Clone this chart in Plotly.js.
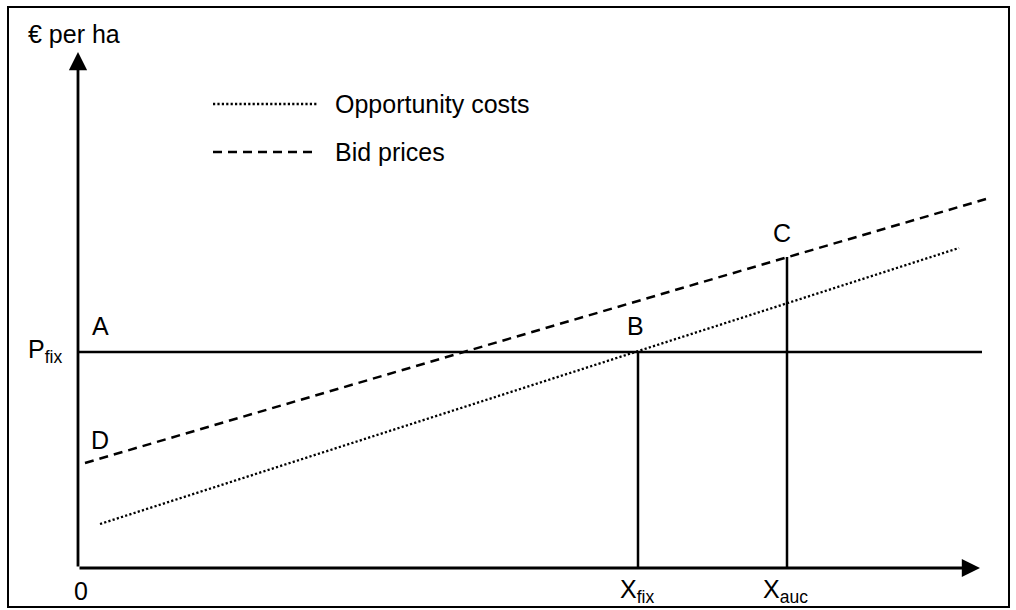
<!DOCTYPE html>
<html>
<head>
<meta charset="utf-8">
<script src="https://cdn.plot.ly/plotly-3.0.1.min.js"></script>
<style>
  html, body { margin: 0; padding: 0; background: #fff; }
  #chart { width: 1016px; height: 610px; }
</style>
</head>
<body>
<div id="chart"></div>
<script>
// ---- data (schematic units: quantity on x, € per ha on y) ----
const seriesNames = ["Opportunity costs", "Bid prices"];
const oppX = [2.2, 88.1];
const oppY = [4.4, 32.0];
const bidX = [0.7, 90.8];
const bidY = [10.5, 36.9];
const pFix = 21.6;
const xFix = 56.0;
const xAuc = 70.9;
const cPrice = 31.1;
const pLineX = [0, 90.4];
const xAxisEnd = 90.2;
const yAxisEnd = 51.6;
const xTickVals = [0, xFix, xAuc];
const xTickText = ["0", "X<sub>fix</sub>", "X<sub>auc</sub>"];
const yTickText = "P<sub>fix</sub>";
const yAxisTitle = "€ per ha";
const pointLabels = ["A", "B", "C", "D"];

const FONT = { family: "Liberation Sans, Arial, sans-serif", size: 25, color: "#000" };
const black = "#000";
const dotDash = "2.2px,2.2px";
const dashDash = "9px,6px";

const traces = [
  { x: oppX, y: oppY, mode: "lines", name: seriesNames[0], hoverinfo: "skip",
    line: { color: black, width: 2.3, dash: dotDash } },
  { x: bidX, y: bidY, mode: "lines", name: seriesNames[1], hoverinfo: "skip",
    line: { color: black, width: 2.5, dash: dashDash } },
  { x: pLineX, y: [pFix, pFix], mode: "lines", hoverinfo: "skip",
    line: { color: black, width: 2.5 } },
  { x: [xFix, xFix], y: [0, pFix], mode: "lines", hoverinfo: "skip",
    line: { color: black, width: 2.5 } },
  { x: [xAuc, xAuc], y: [0, cPrice], mode: "lines", hoverinfo: "skip",
    line: { color: black, width: 2.5 } }
];

const annotations = [];
// axes with arrow heads
const axisArrow = { xref: "x", yref: "y", axref: "x", ayref: "y", text: "", showarrow: true,
  arrowhead: 2, arrowsize: 1.3, arrowwidth: 2.8, arrowcolor: black, standoff: 0 };
annotations.push(Object.assign({}, axisArrow, { x: 0, y: yAxisEnd, ax: 0, ay: 0 }));
annotations.push(Object.assign({}, axisArrow, { x: xAxisEnd, y: 0, ax: 0, ay: 0 }));

// x tick labels
xTickVals.forEach((v, i) => {
  annotations.push({ xref: "x", yref: "y", x: v + (i === 0 ? 0.25 : -0.15), y: -2.3, text: xTickText[i],
    showarrow: false, font: FONT, xanchor: "center", yanchor: "middle" });
});
// y tick label
annotations.push({ xref: "x", yref: "y", x: -5.25, y: pFix, text: yTickText, showarrow: false,
  font: FONT, xanchor: "left", yanchor: "middle", yshift: 1 });
// y axis title
annotations.push({ xref: "x", yref: "y", x: -5.25, y: 53.4, text: yAxisTitle, showarrow: false,
  font: FONT, xanchor: "left", yanchor: "middle" });

// point labels A, B, C, D
const labelPos = [
  [2.2, pFix + 2.6],
  [xFix - 0.25, pFix + 2.65],
  [xAuc - 0.5, cPrice + 2.4],
  [2.2, bidY[0] + 2.3]
];
pointLabels.forEach((t, i) => {
  annotations.push({ xref: "x", yref: "y", x: labelPos[i][0], y: labelPos[i][1], text: t,
    showarrow: false, font: FONT, xanchor: "center", yanchor: "middle" });
});

// legend (manual)
const legendX0 = 13.5, legendX1 = 24.0, legendTextX = 25.5;
const legendY = [46.4, 41.6];
const legendDash = [dotDash, dashDash];
const legendWidth = [2.3, 2.5];
const shapes = [];
seriesNames.forEach((n, i) => {
  shapes.push({ type: "line", xref: "x", yref: "y", x0: legendX0, x1: legendX1, y0: legendY[i], y1: legendY[i],
    line: { color: black, width: legendWidth[i], dash: legendDash[i] } });
  annotations.push({ xref: "x", yref: "y", x: legendTextX, y: legendY[i], text: n, showarrow: false,
    font: FONT, xanchor: "left", yanchor: "middle" });
});

// outer frame
shapes.push({ type: "rect", xref: "paper", yref: "paper",
  x0: 8 / 1016, x1: 1009 / 1016, y0: 1 - 607 / 610, y1: 1 - 7 / 610,
  line: { color: black, width: 2 } });

const layout = {
  width: 1016, height: 610,
  margin: { l: 0, r: 0, t: 0, b: 0, pad: 0 },
  paper_bgcolor: "#fff", plot_bgcolor: "#fff",
  showlegend: false,
  xaxis: { range: [-7.8, 93.8], visible: false, fixedrange: true },
  yaxis: { range: [-4.2, 56.8], visible: false, fixedrange: true },
  shapes: shapes,
  annotations: annotations
};

Plotly.newPlot("chart", traces, layout, { staticPlot: true, displayModeBar: false });
</script>
</body>
</html>
